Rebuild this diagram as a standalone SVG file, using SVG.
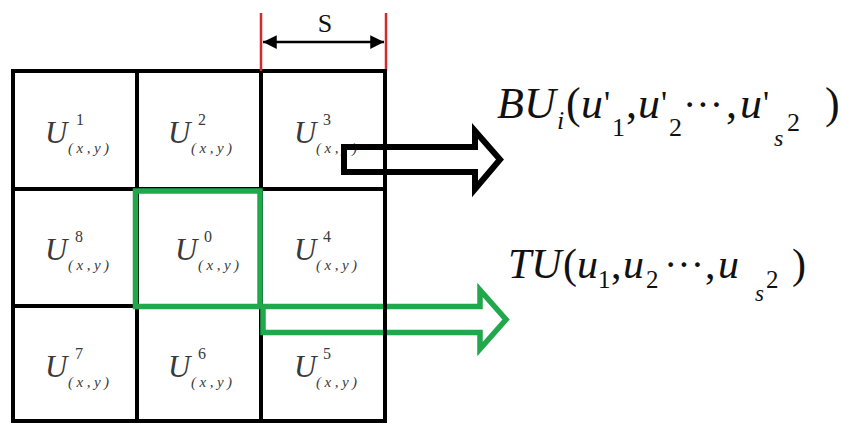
<svg xmlns="http://www.w3.org/2000/svg" width="842" height="423" viewBox="0 0 842 423">
<style>
.grid{stroke:#000;stroke-width:4;fill:none}
.red{stroke:#d42a2a;stroke-width:2.5}
.green{stroke:#22a84c;stroke-width:5.5;fill:none;stroke-linejoin:miter}
.blk{stroke:#000;stroke-width:6;fill:none;stroke-linejoin:miter}
.U{font-family:"Liberation Serif",serif;font-style:italic;font-size:31px;fill:#3a3a3a}
.sup{font-family:"Liberation Serif",serif;font-size:16px;fill:#3a3a3a}
.sub{font-family:"Liberation Serif",serif;font-style:italic;font-size:15px;fill:#3a3a3a;letter-spacing:3.5px}
.m{font-family:"Liberation Serif","DejaVu Serif",serif;fill:#111}
.it{font-style:italic}
</style>
<defs>
<marker id="ah" viewBox="0 0 10 10" refX="10" refY="5" markerWidth="8" markerHeight="5.5" orient="auto-start-reverse" markerUnits="strokeWidth">
<path d="M0,0L10,5L0,10z" fill="#000"/>
</marker>
</defs>
<g id="grid">
<rect class="grid" x="13" y="71" width="372" height="350"/>
<line class="grid" x1="137" y1="71" x2="137" y2="421"/>
<line class="grid" x1="261" y1="71" x2="261" y2="421"/>
<line class="grid" x1="13" y1="189" x2="385" y2="189"/>
<line class="grid" x1="13" y1="306" x2="385" y2="306"/>
</g>
<g id="cells">
<g id="c1"><text class="U" x="45" y="143">U</text><text class="sup" x="76" y="125">1</text><text class="sub" x="68" y="153">(x,y)</text></g>
<g id="c2"><text class="U" x="168" y="143">U</text><text class="sup" x="198" y="125">2</text><text class="sub" x="191" y="153">(x,y)</text></g>
<g id="c3"><text class="U" x="294" y="143">U</text><text class="sup" x="323" y="125">3</text><text class="sub" x="316" y="153">(x,y)</text></g>
<g id="c8"><text class="U" x="45" y="260">U</text><text class="sup" x="75" y="242">8</text><text class="sub" x="68" y="270">(x,y)</text></g>
<g id="c0"><text class="U" x="175" y="260">U</text><text class="sup" x="204" y="242">0</text><text class="sub" x="198" y="270">(x,y)</text></g>
<g id="c4"><text class="U" x="294" y="260">U</text><text class="sup" x="323" y="242">4</text><text class="sub" x="316" y="270">(x,y)</text></g>
<g id="c7"><text class="U" x="45" y="377">U</text><text class="sup" x="75" y="359">7</text><text class="sub" x="68" y="387">(x,y)</text></g>
<g id="c6"><text class="U" x="168" y="377">U</text><text class="sup" x="198" y="359">6</text><text class="sub" x="191" y="387">(x,y)</text></g>
<g id="c5"><text class="U" x="294" y="377">U</text><text class="sup" x="323" y="359">5</text><text class="sub" x="316" y="387">(x,y)</text></g>
</g>
<g id="dimension">
<line class="red" x1="261" y1="13" x2="261" y2="71"/>
<line class="red" x1="386" y1="13" x2="386" y2="71"/>
<line x1="263" y1="42" x2="384" y2="42" stroke="#000" stroke-width="2.5" marker-start="url(#ah)" marker-end="url(#ah)"/>
<text x="325" y="32" text-anchor="middle" font-family="Liberation Serif,serif" font-size="26" fill="#111">S</text>
</g>
<g id="connectors">
<path id="blackArrow" class="blk" d="M344,147H475V131L500,159.5L475,189V172H344Z"/>
<rect id="centerBlock" class="green" x="135.5" y="191" width="124.5" height="115.5"/>
<path id="greenArrow" class="green" d="M263,306.5H480V290L506,319.5L480,349V332.5H263Z"/>
<line class="grid" x1="385" y1="69" x2="385" y2="423"/>
</g>
<g id="BU">
<text class="m" font-size="44">
<tspan class="it" x="497" y="118">BU</tspan>
<tspan class="it" x="557" y="129" font-size="26">i</tspan>
<tspan x="566" y="118">(</tspan>
<tspan class="it" x="581" y="118">u</tspan>
<tspan x="604" y="114" font-size="34">'</tspan>
<tspan x="612" y="136" font-size="26">1</tspan>
<tspan x="626" y="118">,</tspan>
<tspan class="it" x="638" y="118">u</tspan>
<tspan x="661" y="114" font-size="34">'</tspan>
<tspan x="669" y="136" font-size="26">2</tspan>
<tspan x="683" y="118" font-size="40">···</tspan>
<tspan x="726" y="118">,</tspan>
<tspan class="it" x="740" y="118">u</tspan>
<tspan x="763" y="114" font-size="34">'</tspan>
<tspan class="it" x="774" y="146" font-size="24">s</tspan>
<tspan x="787" y="131" font-size="26">2</tspan>
<tspan x="825" y="118">)</tspan>
</text>
</g>
<g id="TU">
<text class="m" font-size="42">
<tspan class="it" x="508" y="278">TU</tspan>
<tspan x="563" y="278">(</tspan>
<tspan class="it" x="577" y="278">u</tspan>
<tspan x="598" y="288" font-size="25">1</tspan>
<tspan x="611" y="278">,</tspan>
<tspan class="it" x="623" y="278">u</tspan>
<tspan x="646" y="288" font-size="25">2</tspan>
<tspan x="664" y="278" font-size="40">···</tspan>
<tspan x="705" y="278">,</tspan>
<tspan class="it" x="718" y="278">u</tspan>
<tspan class="it" x="755" y="301" font-size="23">s</tspan>
<tspan x="766" y="288" font-size="25">2</tspan>
<tspan x="792" y="278">)</tspan>
</text>
</g>
</svg>
